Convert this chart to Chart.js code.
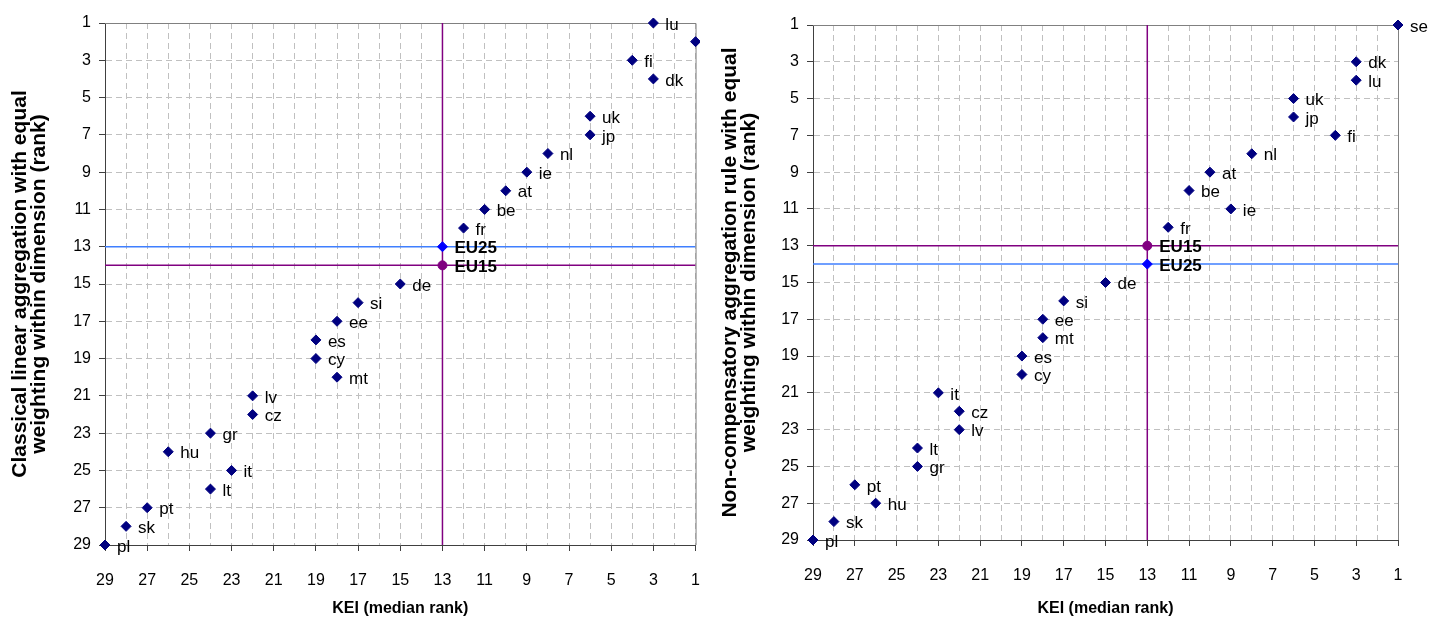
<!DOCTYPE html>
<html>
<head>
<meta charset="utf-8">
<script src="https://cdn.jsdelivr.net/npm/chart.js@4"></script>
<style>
  body { margin: 0; background: #fff; }
  .clip { position: absolute; top: 0; height: 622px; overflow: hidden; }
  .panel { position: absolute; top: 0; left: 0; height: 622px; }
</style>
</head>
<body>
<div class="clip" style="left:0;width:700px">
  <div class="panel" style="width:720px"><canvas id="chartLeft"></canvas></div>
</div>
<div class="clip" style="left:718px;width:719px">
  <div class="panel" style="width:719px"><canvas id="chartRight"></canvas></div>
</div>
<script>
// ranks run from 1 (best) to 29
const rankMin = 1;
const rankMax = 29;

// left panel: classical linear aggregation
const leftCountries = ["lu", "se", "fi", "dk", "uk", "jp", "nl", "ie", "at", "be", "fr", "de", "si", "ee", "es", "cy", "mt", "lv", "cz", "gr", "hu", "it", "lt", "pt", "sk", "pl"];
const leftKei = [3, 1, 4, 3, 6, 6, 8, 9, 10, 11, 12, 15, 17, 18, 19, 19, 18, 22, 22, 24, 26, 23, 24, 27, 28, 29];
const leftRank = [1, 2, 3, 4, 6, 7, 8, 9, 10, 11, 12, 15, 16, 17, 18, 19, 20, 21, 22, 23, 24, 25, 26, 27, 28, 29];
const leftEuLabels = ["EU25", "EU15"];
const leftEuKei = [13, 13];
const leftEuRank = [13, 14];

// right panel: non-compensatory aggregation
const rightCountries = ["se", "dk", "lu", "uk", "jp", "fi", "nl", "at", "be", "ie", "fr", "de", "si", "ee", "mt", "es", "cy", "it", "cz", "lv", "lt", "gr", "pt", "hu", "sk", "pl"];
const rightKei = [1, 3, 3, 6, 6, 4, 8, 10, 11, 9, 12, 15, 17, 18, 18, 19, 19, 23, 22, 22, 24, 24, 27, 26, 28, 29];
const rightRank = [1, 3, 4, 5, 6, 7, 8, 9, 10, 11, 12, 15, 16, 17, 18, 19, 20, 21, 22, 23, 24, 25, 26, 27, 28, 29];
const rightEuLabels = ["EU15", "EU25"];
const rightEuKei = [13, 13];
const rightEuRank = [13, 14];

const xTitle = "KEI (median rank)";
const leftYTitle = ["Classical linear aggregation with equal", "weighting within dimension (rank)"];
const rightYTitle = ["Non-compensatory aggregation rule with equal", "weighting within dimension (rank)"];

const FONT = "'Liberation Sans', Arial, sans-serif";
const euStyle = {
    EU25: { color: "#0000ff", line: "#3f7fff", shape: "rectRot" },
    EU15: { color: "#800080", line: "#800080", shape: "circle" }
};

// text next to each point
const pointLabelPlugin = {
    id: "pointLabels",
    afterDatasetsDraw(chart) {
        const ctx = chart.ctx;
        chart.data.datasets.forEach((ds, i) => {
            if (!ds.pointLabels) return;
            const meta = chart.getDatasetMeta(i);
            ctx.save();
            ctx.fillStyle = "#000";
            ctx.font = (ds.labelBold ? "bold " : "") + "17px " + FONT;
            ctx.textBaseline = "middle";
            meta.data.forEach((pt, j) => {
                ctx.fillText(ds.pointLabels[j], pt.x + 12, pt.y + 2);
            });
            ctx.restore();
        });
    }
};

// grey frame on top and right of plot area
const framePlugin = {
    id: "frame",
    beforeDatasetsDraw(chart) {
        const { ctx, chartArea: a } = chart;
        ctx.save();
        ctx.strokeStyle = "#808080";
        ctx.lineWidth = 1;
        ctx.beginPath();
        ctx.moveTo(a.left, a.top + 0.5);
        ctx.lineTo(a.right + 0.5, a.top + 0.5);
        ctx.lineTo(a.right + 0.5, a.bottom);
        ctx.stroke();
        ctx.restore();
    }
};

function makeChart(id, countries, kei, rank, euLabels, euKei, euRank, yTitle, box) {
    const datasets = [];

    // reference lines through the EU averages
    euLabels.forEach((lab, i) => {
        datasets.push({
            type: "line",
            data: [{ x: rankMax, y: euRank[i] }, { x: rankMin, y: euRank[i] }],
            borderColor: euStyle[lab].line,
            borderWidth: 1.5,
            pointRadius: 0,
            order: 3
        });
    });
    datasets.push({
        type: "line",
        data: [{ x: euKei[0], y: rankMin }, { x: euKei[0], y: rankMax }],
        borderColor: "#800080",
        borderWidth: 1.5,
        pointRadius: 0,
        order: 3
    });

    datasets.push({
        data: kei.map((v, i) => ({ x: v, y: rank[i] })),
        pointLabels: countries,
        pointStyle: "rectRot",
        pointRadius: 5,
        backgroundColor: "#000080",
        borderColor: "#000080",
        borderWidth: 1,
        clip: false,
        order: 1
    });

    euLabels.forEach((lab, i) => {
        datasets.push({
            data: [{ x: euKei[i], y: euRank[i] }],
            pointLabels: [lab],
            labelBold: true,
            pointStyle: euStyle[lab].shape,
            pointRadius: lab === "EU15" ? 4.5 : 5,
            backgroundColor: euStyle[lab].color,
            borderColor: euStyle[lab].color,
            borderWidth: 1,
            clip: false,
            order: 0
        });
    });

    return new Chart(document.getElementById(id), {
        type: "scatter",
        data: { datasets },
        options: {
            responsive: true,
            maintainAspectRatio: false,
            animation: false,
            layout: { padding: { top: box.top, right: box.right, left: 0, bottom: 0 } },
            plugins: { legend: { display: false }, tooltip: { enabled: false } },
            scales: {
                x: {
                    type: "linear",
                    reverse: true,
                    min: rankMin,
                    max: rankMax,
                    afterFit: (s) => { s.height = box.xHeight; },
                    ticks: {
                        stepSize: 1,
                        autoSkip: false,
                        maxRotation: 0,
                        padding: 20,
                        color: "#000",
                        font: { family: FONT, size: 16 },
                        callback: (v) => (v % 2 === 1 ? v : "")
                    },
                    grid: {
                        color: "#c0c0c0",
                        tickColor: (c) => (c.tick && c.tick.value % 2 === 1 ? "#404040" : "rgba(0,0,0,0)"),
                        tickLength: 6
                    },
                    border: { color: "#404040", dash: [6, 4] },
                    title: {
                        display: true,
                        text: xTitle,
                        color: "#000",
                        font: { family: FONT, size: 16, weight: "bold" },
                        padding: { top: 0, bottom: 4 }
                    }
                },
                y: {
                    type: "linear",
                    reverse: true,
                    min: rankMin,
                    max: rankMax,
                    afterFit: (s) => { s.width = box.yWidth; },
                    ticks: {
                        stepSize: 2,
                        padding: 8,
                        color: "#000",
                        font: { family: FONT, size: 16 }
                    },
                    grid: { color: "#c0c0c0", tickColor: "#404040", tickLength: 6 },
                    border: { color: "#404040", dash: [6, 4] },
                    title: {
                        display: true,
                        text: yTitle,
                        color: "#000",
                        font: { family: FONT, size: 21, weight: "bold", lineHeight: 0.88 },
                        padding: { top: box.titleTop, bottom: 0 }
                    }
                }
            }
        },
        plugins: [framePlugin, pointLabelPlugin]
    });
}

makeChart("chartLeft", leftCountries, leftKei, leftRank, leftEuLabels, leftEuKei, leftEuRank, leftYTitle,
    { top: 23, right: 0, xHeight: 77, yWidth: 105, titleTop: 11 });
makeChart("chartRight", rightCountries, rightKei, rightRank, rightEuLabels, rightEuKei, rightEuRank, rightYTitle,
    { top: 25, right: 39, xHeight: 82, yWidth: 95, titleTop: 3 });
</script>
</body>
</html>
